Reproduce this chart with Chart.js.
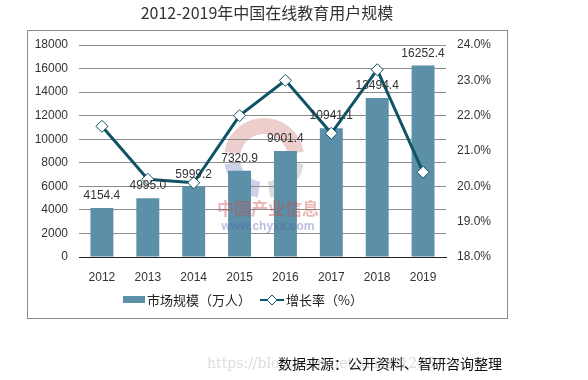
<!DOCTYPE html>
<html>
<head>
<meta charset="utf-8">
<script src="https://cdn.jsdelivr.net/npm/chart.js@4"></script>
<style>
  html, body { margin: 0; padding: 0; background: #fff; }
  #wrap { width: 588px; height: 380px; position: relative; }
</style>
</head>
<body>
<div id="wrap"><canvas id="eduChart" width="588" height="380"></canvas></div>
<script>
// data
const years = ["2012", "2013", "2014", "2015", "2016", "2017", "2018", "2019"];
const users = [4154.4, 4995.0, 5999.2, 7320.9, 9001.4, 10941.1, 13494.4, 16252.4];
const growth = [21.7, 20.2, 20.1, 22.0, 23.0, 21.5, 23.3, 20.4];

const barColor = '#5b90a8';
const lineColor = '#0e5466';
const cjk = '"Noto Sans CJK SC", sans-serif';
const latin = '"Liberation Sans", Arial, sans-serif';

// frame, title, legend, labels
const decoPlugin = {
    id: 'deco',
    beforeDraw: (chart) => {
        const ctx = chart.ctx;
        ctx.save();
        ctx.strokeStyle = '#8a8a8a';
        ctx.lineWidth = 1;
        ctx.strokeRect(27.5, 30.5, 480, 288);

        // faint watermark ring
        ctx.lineWidth = 16;
        ctx.globalAlpha = 0.3;
        ctx.strokeStyle = '#c85a5a';
        ctx.beginPath();
        ctx.arc(264, 158, 32, Math.PI * 1.05, Math.PI * 1.95);
        ctx.stroke();
        ctx.strokeStyle = '#8a8a8a';
        ctx.beginPath();
        ctx.arc(264, 158, 32, Math.PI * 0.05, Math.PI * 0.45);
        ctx.stroke();
        ctx.strokeStyle = '#5a6ab8';
        ctx.beginPath();
        ctx.arc(264, 158, 32, Math.PI * 0.55, Math.PI * 0.95);
        ctx.stroke();
        ctx.globalAlpha = 1;
        ctx.restore();
    },
    afterDraw: (chart) => {
        const ctx = chart.ctx;
        ctx.save();
        ctx.textBaseline = 'middle';

        // title
        ctx.fillStyle = '#333';
        ctx.font = '16px ' + cjk;
        ctx.textAlign = 'center';
        ctx.fillText('2012-2019年中国在线教育用户规模', 267, 13);

        // data labels above bars
        const meta = chart.getDatasetMeta(1);
        ctx.font = '12px ' + latin;
        ctx.fillStyle = '#333';
        meta.data.forEach((bar, i) => {
            ctx.fillText(users[i].toFixed(1), bar.x, bar.y - 12);
        });

        // watermark text
        ctx.globalAlpha = 0.4;
        ctx.font = 'bold 17px ' + cjk;
        ctx.fillStyle = '#c84a4a';
        ctx.fillText('中国产业信息', 268, 209);
        ctx.font = 'bold 12px ' + latin;
        ctx.fillStyle = '#5060b0';
        ctx.fillText('www.chyxx.com', 268, 227);
        ctx.globalAlpha = 1;

        // legend
        ctx.textAlign = 'left';
        ctx.fillStyle = barColor;
        ctx.fillRect(123, 296, 22, 7);
        ctx.fillStyle = '#222';
        ctx.font = '13px ' + cjk;
        ctx.fillText('市场规模（万人）', 147, 300);

        ctx.strokeStyle = lineColor;
        ctx.lineWidth = 2;
        ctx.beginPath();
        ctx.moveTo(260, 300);
        ctx.lineTo(284, 300);
        ctx.stroke();
        ctx.fillStyle = '#fff';
        ctx.lineWidth = 1;
        ctx.beginPath();
        ctx.moveTo(272, 295);
        ctx.lineTo(277, 300);
        ctx.lineTo(272, 305);
        ctx.lineTo(267, 300);
        ctx.closePath();
        ctx.fill();
        ctx.stroke();
        ctx.fillStyle = '#222';
        ctx.fillText('增长率（%）', 286, 300);

        // source line
        ctx.font = '14px "DejaVu Serif", serif';
        ctx.fillStyle = '#dcdcdc';
        ctx.fillText('https://blog.csdn.net/xiaoxi1255', 207, 364);
        ctx.font = '14px ' + cjk;
        ctx.fillStyle = '#111';
        ctx.fillText('数据来源：公开资料、智研咨询整理', 278, 364);
        ctx.restore();
    }
};

const eduChartElm = document.getElementById('eduChart');

const eduChart = new Chart(eduChartElm, {
    data: {
        labels: years,
        datasets: [{
            type: 'line',
            label: '增长率（%）',
            data: growth,
            yAxisID: 'y1',
            borderColor: lineColor,
            borderWidth: 3,
            tension: 0,
            pointStyle: 'rectRot',
            pointRadius: 6,
            pointBackgroundColor: '#fff',
            pointBorderColor: lineColor,
            pointBorderWidth: 1,
            order: 0
        }, {
            type: 'bar',
            label: '市场规模（万人）',
            data: users,
            yAxisID: 'y',
            backgroundColor: barColor,
            barPercentage: 0.5,
            categoryPercentage: 1,
            order: 1
        }]
    },
    options: {
        responsive: false,
        animation: false,
        layout: { padding: { top: 45, left: 0, right: 0, bottom: 0 } },
        plugins: {
            legend: { display: false },
            tooltip: { enabled: false }
        },
        scales: {
            x: {
                grid: { display: false, drawTicks: false },
                border: { color: '#222', width: 1 },
                ticks: { color: '#333', font: { size: 12, family: latin }, padding: 13 },
                afterFit: (s) => { s.height = 123; }
            },
            y: {
                position: 'left',
                min: 0,
                max: 18000,
                grid: { color: '#8c8c8c', drawTicks: false },
                border: { display: false },
                ticks: {
                    stepSize: 2000,
                    color: '#333',
                    font: { size: 12, family: latin },
                    padding: 11,
                    callback: (v) => String(v)
                },
                afterFit: (s) => { s.width = 79; }
            },
            y1: {
                position: 'right',
                min: 18,
                max: 24,
                grid: { display: false, drawTicks: false },
                border: { display: false },
                ticks: {
                    stepSize: 1,
                    color: '#333',
                    font: { size: 12, family: latin },
                    padding: 11,
                    callback: (v) => v.toFixed(1) + '%'
                },
                afterFit: (s) => { s.width = 142; }
            }
        }
    },
    plugins: [decoPlugin]
});
</script>
</body>
</html>
